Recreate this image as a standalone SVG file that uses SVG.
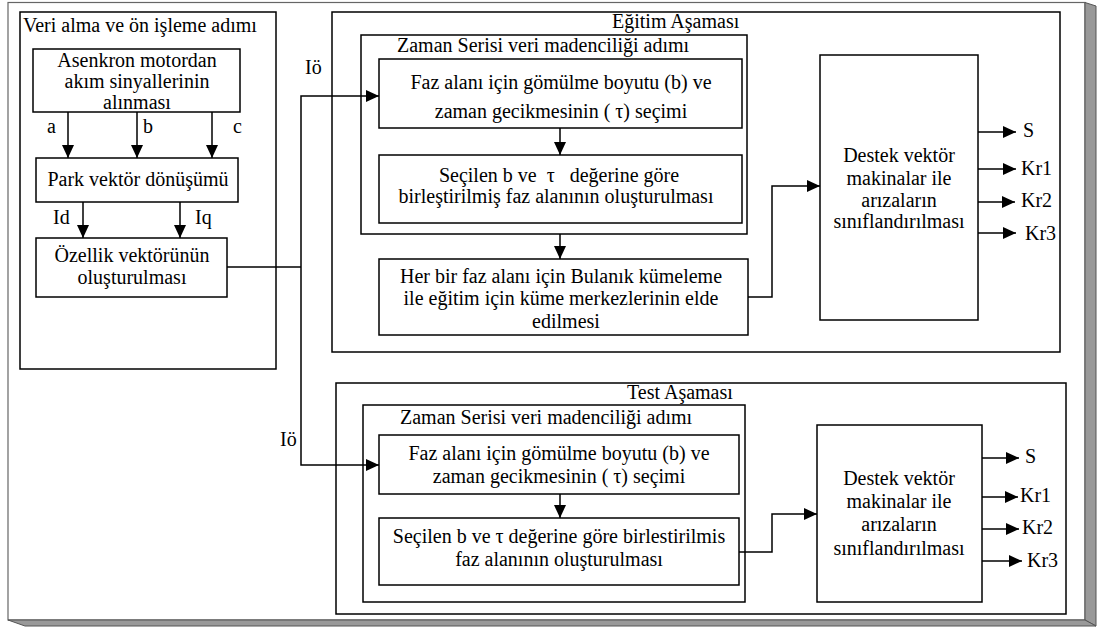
<svg xmlns="http://www.w3.org/2000/svg" width="1097" height="628" viewBox="0 0 1097 628">
<style>
text{font-family:"Liberation Serif","Times New Roman",serif;font-size:20px;fill:#000}
.m{text-anchor:middle}
.box{fill:#fff;stroke:#000;stroke-width:1.5}
.frame{fill:none;stroke:#000;stroke-width:1.5}
.c{fill:none;stroke:#000;stroke-width:1.5}
.a{marker-end:url(#ah)}
.pre{white-space:pre}
</style>
<defs>
<marker id="ah" markerUnits="userSpaceOnUse" markerWidth="13" markerHeight="12" refX="13" refY="6" orient="auto">
<path d="M0,0 L13,6 L0,12 z" fill="#000"/>
</marker>
</defs>
<g id="outer-frame">
<rect x="8" y="2.5" width="1077" height="617.5" fill="#fff" stroke="#666" stroke-width="1.2"/>
<polygon points="1085,2.5 1096,6 1096,626 1085,620" fill="#999" stroke="#555" stroke-width="1"/>
<polygon points="8,620 1085,620 1096,626 25,626" fill="#999" stroke="#555" stroke-width="1"/>
</g>
<g id="veri-alma">
<rect class="frame" x="20" y="12" width="256" height="357"/>
<text x="23" y="32">Veri alma ve ön işleme adımı</text>
</g>
<g id="asenkron">
<rect class="box" x="33" y="49" width="207" height="63"/>
<text class="m" x="137" y="67">Asenkron motordan</text>
<text class="m" x="137" y="88">akım sinyallerinin</text>
<text class="m" x="137" y="109">alınması</text>
</g>
<g id="park">
<rect class="box" x="36" y="158" width="202" height="44"/>
<text class="m" x="138" y="186">Park vektör dönüşümü</text>
</g>
<g id="ozellik">
<rect class="box" x="36" y="238" width="191" height="59"/>
<text class="m" x="132" y="262">Özellik vektörünün</text>
<text class="m" x="132" y="284">oluşturulması</text>
</g>
<g id="egitim">
<rect class="frame" x="332" y="12" width="728" height="340"/>
<text x="612" y="28">Eğitim Aşaması</text>
</g>
<g id="egitim-zaman">
<rect class="frame" x="361" y="35" width="386" height="199"/>
<text x="397" y="52">Zaman Serisi veri madenciliği adımı</text>
</g>
<g id="egitim-faz">
<rect class="box" x="379" y="59" width="363" height="69"/>
<text class="m" x="561" y="89">Faz alanı için gömülme boyutu (b) ve</text>
<text class="m" x="561" y="118">zaman gecikmesinin ( τ) seçimi</text>
</g>
<g id="egitim-secilen">
<rect class="box" x="379" y="155" width="363" height="68"/>
<text class="m pre" x="559" y="182" xml:space="preserve">Seçilen b ve  τ   değerine göre</text>
<text class="m" x="556" y="203">birleştirilmiş faz alanının oluşturulması</text>
</g>
<g id="egitim-bulanik">
<rect class="box" x="379" y="259" width="369" height="76"/>
<text class="m" x="561" y="283">Her bir faz alanı için Bulanık kümeleme</text>
<text class="m" x="561" y="305">ile eğitim için küme merkezlerinin elde</text>
<text class="m" x="566" y="328">edilmesi</text>
</g>
<g id="egitim-destek">
<rect class="box" x="820" y="55" width="158" height="265"/>
<text class="m" x="899" y="162">Destek vektör</text>
<text class="m" x="899" y="185">makinalar ile</text>
<text class="m" x="899" y="207">arızaların</text>
<text class="m" x="899" y="228">sınıflandırılması</text>
</g>
<g id="test">
<rect class="frame" x="336" y="383" width="730" height="231"/>
<text x="627" y="399">Test Aşaması</text>
</g>
<g id="test-zaman">
<rect class="frame" x="363" y="405" width="382" height="197"/>
<text x="400" y="424">Zaman Serisi veri madenciliği adımı</text>
</g>
<g id="test-faz">
<rect class="box" x="379" y="435" width="360" height="59"/>
<text class="m" x="559" y="460">Faz alanı için gömülme boyutu (b) ve</text>
<text class="m" x="559" y="483">zaman gecikmesinin ( τ) seçimi</text>
</g>
<g id="test-secilen">
<rect class="box" x="379" y="518" width="360" height="67"/>
<text class="m" x="559" y="543">Seçilen b ve τ değerine göre birlestirilmis</text>
<text class="m" x="559" y="566">faz alanının oluşturulması</text>
</g>
<g id="test-destek">
<rect class="box" x="817" y="425" width="165" height="177"/>
<text class="m" x="899" y="485">Destek vektör</text>
<text class="m" x="899" y="508">makinalar ile</text>
<text class="m" x="899" y="531">arızaların</text>
<text class="m" x="899" y="555">sınıflandırılması</text>
</g>
<g id="connectors">
<path class="c a" d="M68,112 V158"/>
<path class="c a" d="M137,112 V158"/>
<path class="c a" d="M212,112 V158"/>
<path class="c a" d="M83,202 V238"/>
<path class="c a" d="M180,202 V238"/>
<path class="c" d="M227,267 H301"/>
<path class="c a" d="M301,267 V96 H379"/>
<path class="c a" d="M301,267 V465 H379"/>
<path class="c a" d="M560,128 V155"/>
<path class="c a" d="M560,234 V259"/>
<path class="c a" d="M748,297 H772 V186 H820"/>
<path class="c a" d="M978,132 H1016"/>
<path class="c a" d="M978,169 H1016"/>
<path class="c a" d="M978,202 H1015"/>
<path class="c a" d="M978,233 H1016"/>
<path class="c a" d="M560,494 V518"/>
<path class="c a" d="M739,552 H772 V514 H817"/>
<path class="c a" d="M982,458 H1019"/>
<path class="c a" d="M982,497 H1018"/>
<path class="c a" d="M982,529 H1019"/>
<path class="c a" d="M982,561 H1022"/>
<text x="47" y="133">a</text>
<text x="143" y="133">b</text>
<text x="233" y="133">c</text>
<text x="53" y="224">Id</text>
<text x="195" y="224">Iq</text>
<text x="305" y="74">Iö</text>
<text x="280" y="446">Iö</text>
<text x="1023" y="137">S</text>
<text x="1021" y="175">Kr1</text>
<text x="1021" y="207">Kr2</text>
<text x="1025" y="240">Kr3</text>
<text x="1025" y="463">S</text>
<text x="1020" y="502">Kr1</text>
<text x="1022" y="534">Kr2</text>
<text x="1027" y="567">Kr3</text>
</g>
</svg>
